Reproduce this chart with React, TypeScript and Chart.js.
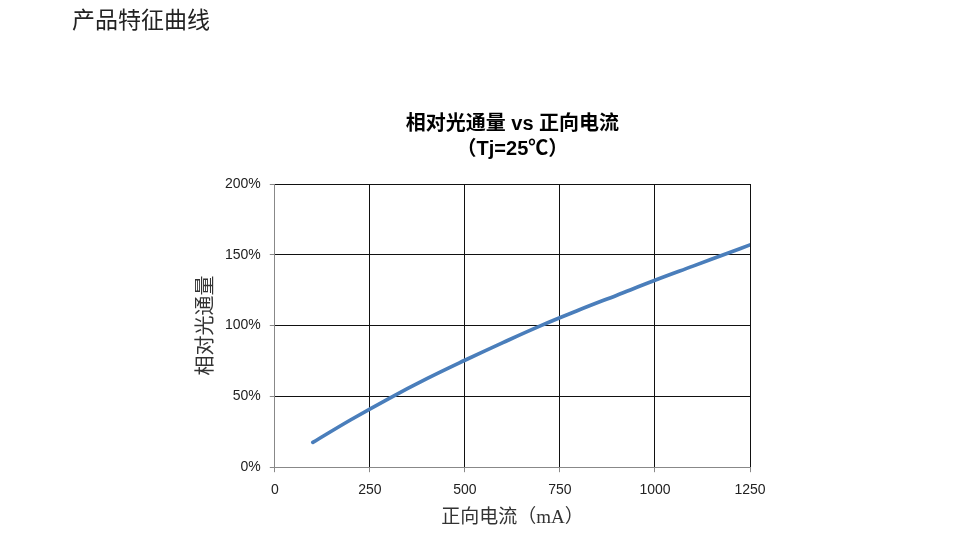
import React, { useEffect, useRef } from "react";
import { Chart, registerables } from "chart.js";

Chart.register(...registerables);

const pageHeading = "产品特征曲线";
const titleLines = ["相对光通量 vs 正向电流", "（Tj=25℃）"];
const xAxisTitle = "正向电流（mA）";
const yAxisTitle = "相对光通量";
const currents = [100, 200, 300, 400, 500, 600, 700, 800, 900, 1000, 1100, 1200, 1250];
const relativeFlux = [17.5, 33.5, 48.5, 62.5, 75.5, 88, 100, 111, 121.5, 132, 142, 152, 157];
const xTicks = [0, 250, 500, 750, 1000, 1250];
const yTicks = [0, 50, 100, 150, 200];

export default function App() {
  const canvasRef = useRef<HTMLCanvasElement | null>(null);

  useEffect(() => {
    if (!canvasRef.current) return;
    const chart = new Chart(canvasRef.current, {
      type: "line",
      data: {
        datasets: [
          {
            data: currents.map((c, i) => ({ x: c, y: relativeFlux[i] })),
            borderColor: "#4a7ebb",
            borderWidth: 3.7,
            pointRadius: 0,
            fill: false,
            tension: 0.4,
            borderCapStyle: "round",
          },
        ],
      },
      options: {
        animation: false,
        responsive: false,
        maintainAspectRatio: false,
        layout: { padding: { left: 192, right: 203, top: 0, bottom: 10 } },
        plugins: {
          legend: { display: false },
          tooltip: { enabled: false },
          title: {
            display: true,
            text: titleLines,
            fullSize: false,
            color: "#000",
            font: { family: "'Liberation Sans', 'Noto Sans CJK SC', sans-serif", size: 20, weight: "bold", lineHeight: 1.25 },
            padding: { top: 112, bottom: 22 },
          },
        },
        scales: {
          x: {
            type: "linear",
            min: 0,
            max: 1250,
            afterBuildTicks: (axis: any) => {
              axis.ticks = xTicks.map((v) => ({ value: v }));
            },
            grid: { color: "#111", tickColor: "#888", tickLength: 5, lineWidth: 1 },
            border: { color: "#888", width: 1 },
            ticks: {
              color: "#222",
              padding: 10,
              maxRotation: 0,
              font: { family: "'Liberation Sans', sans-serif", size: 14 },
              callback: (v: any) => String(v),
            },
            title: {
              display: true,
              text: xAxisTitle,
              color: "#333",
              font: { family: "'Liberation Serif', 'Noto Sans CJK SC', serif", size: 19, lineHeight: 1.0 },
              padding: { top: 0, bottom: 0 },
            },
          },
          y: {
            type: "linear",
            min: 0,
            max: 200,
            afterBuildTicks: (axis: any) => {
              axis.ticks = yTicks.map((v) => ({ value: v }));
            },
            grid: { color: "#111", tickColor: "#888", tickLength: 5, lineWidth: 1 },
            border: { color: "#888", width: 1 },
            ticks: {
              color: "#222",
              padding: 9,
              font: { family: "'Liberation Sans', sans-serif", size: 14 },
              callback: (v: any) => `${v}%`,
            },
            title: {
              display: true,
              text: yAxisTitle,
              color: "#333",
              font: { family: "'Noto Sans CJK SC', sans-serif", size: 20, lineHeight: 1.2 },
              padding: { top: 0, bottom: 0 },
            },
          },
        },
      },
    });
    return () => chart.destroy();
  }, []);

  return (
    <div style={{ position: "absolute", left: 0, top: 0, width: 953, height: 538, background: "#fff" }}>
      <canvas ref={canvasRef} width={953} height={538} style={{ position: "absolute", left: 0, top: 0 }} />
      <div
        style={{
          position: "absolute",
          left: 72,
          top: 7,
          fontFamily: "'Noto Sans CJK SC', sans-serif",
          fontSize: 23,
          lineHeight: "23px",
          color: "#222",
          whiteSpace: "nowrap",
        }}
      >
        {pageHeading}
      </div>
    </div>
  );
}
